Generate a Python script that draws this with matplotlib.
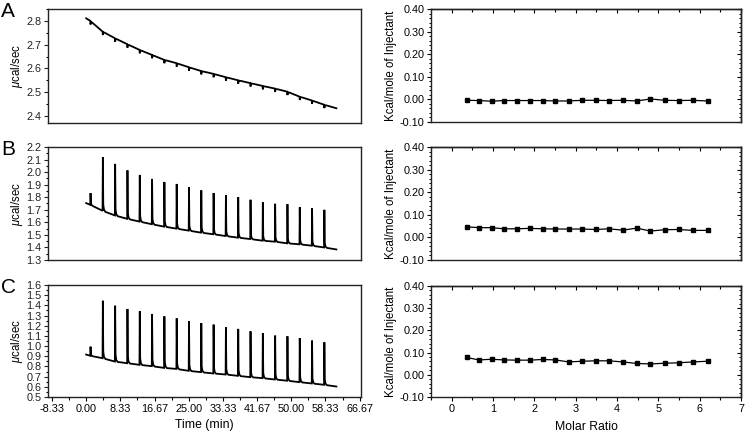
import numpy as np
import matplotlib
matplotlib.use("Agg")
import matplotlib.pyplot as plt
from matplotlib.ticker import MultipleLocator, FixedLocator, FormatStrFormatter, NullLocator, NullFormatter

plt.rcParams['font.family'] = ['Liberation Sans', 'DejaVu Sans']
plt.rcParams['mathtext.fontset'] = 'custom'
plt.rcParams['mathtext.it'] = 'Liberation Sans:italic'
plt.rcParams['mathtext.rm'] = 'Liberation Sans'

# ---------------- data ----------------
# injection times (min)
inj_times = [1.0] + [4.0 + 3.0 * k for k in range(19)]
trace_start = 0.0
trace_end = 61.0

# Panel A raw trace: baseline just before each injection (ucal/s)
A_start = 2.811
A_base = [2.800, 2.755, 2.727, 2.702, 2.678, 2.657, 2.636, 2.622, 2.605, 2.589,
          2.577, 2.563, 2.550, 2.538, 2.526, 2.515, 2.502, 2.481, 2.465, 2.447]
A_end = 2.432
A_peak = [b - 0.014 for b in A_base]

# Panel B raw trace
B_start = 1.753
B_base = [1.740, 1.692, 1.655, 1.628, 1.606, 1.585, 1.566, 1.550, 1.534, 1.518,
          1.505, 1.491, 1.478, 1.467, 1.454, 1.446, 1.433, 1.425, 1.414, 1.400]
B_peak = [1.834, 2.120, 2.066, 2.015, 1.978, 1.946, 1.922, 1.906, 1.879, 1.855,
          1.834, 1.815, 1.802, 1.780, 1.759, 1.748, 1.745, 1.721, 1.713, 1.700]
B_end = 1.384

# Panel C raw trace
C_start = 0.917
C_base = [0.905, 0.881, 0.848, 0.832, 0.816, 0.803, 0.786, 0.776, 0.757, 0.744,
          0.731, 0.721, 0.708, 0.695, 0.685, 0.672, 0.660, 0.646, 0.633, 0.620]
C_peak = [0.995, 1.446, 1.397, 1.365, 1.342, 1.316, 1.293, 1.273, 1.247, 1.227,
          1.211, 1.185, 1.169, 1.146, 1.129, 1.103, 1.097, 1.080, 1.054, 1.038]
C_end = 0.603

# spike shape (min after injection, fraction of height)
spike_dt = [0.0, 0.07, 0.17, 0.35, 0.7]
spike_frac = [0.0, 1.0, 0.12, 0.03, 0.0]

# integrated heats
molar_ratio = [0.36, 0.66, 0.965, 1.27, 1.57, 1.89, 2.20, 2.51, 2.83, 3.15,
               3.48, 3.80, 4.14, 4.48, 4.81, 5.15, 5.49, 5.83, 6.19]
heat_A = [-0.004, -0.005, -0.008, -0.005, -0.005, -0.005, -0.005, -0.007, -0.007, -0.004,
          -0.004, -0.005, -0.004, -0.007, 0.002, -0.004, -0.005, -0.004, -0.007]
heat_B = [0.047, 0.043, 0.043, 0.038, 0.038, 0.040, 0.038, 0.037, 0.037, 0.037,
          0.035, 0.038, 0.032, 0.041, 0.028, 0.034, 0.035, 0.031, 0.031]
heat_C = [0.078, 0.067, 0.070, 0.067, 0.066, 0.066, 0.069, 0.067, 0.058, 0.061,
          0.063, 0.063, 0.058, 0.051, 0.049, 0.052, 0.054, 0.058, 0.061]

time_ticks = [-8.33, 0.00, 8.33, 16.67, 25.00, 33.33, 41.67, 50.00, 58.33, 66.67]
time_tick_labels = ["-8.33", "0.00", "8.33", "16.67", "25.00", "33.33", "41.67", "50.00", "58.33", "66.67"]
panel_letters = ["A", "B", "C"]


def build_trace(start, base, peak, end):
    kt = [trace_start] + list(inj_times) + [trace_end]
    kv = [start] + list(base) + [end]
    ts, vs = [trace_start], [start]
    for i, t0 in enumerate(inj_times):
        h = peak[i] - base[i]
        for dt, fr in zip(spike_dt, spike_frac):
            t = t0 + dt
            ts.append(t)
            vs.append(np.interp(t, kt, kv) + fr * h)
    ts.append(trace_end)
    vs.append(end)
    return ts, vs


fig = plt.figure(figsize=(7.45, 4.33), dpi=100)
W, H = 745.0, 433.0


def ax_at(x0, y0, x1, y1):
    return fig.add_axes([x0 / W, 1 - y1 / H, (x1 - x0) / W, (y1 - y0) / H])


left_rows = [(9, 123), (147, 260), (285, 397)]
right_rows = [(9, 122), (147, 260), (286, 397)]

raw = [(A_start, A_base, A_peak, A_end), (B_start, B_base, B_peak, B_end),
       (C_start, C_base, C_peak, C_end)]
ylims = [(2.37, 2.85), (1.3, 2.2), (0.5, 1.6)]
heats = [heat_A, heat_B, heat_C]

spine_col = '#222222'
tick_fs = 7.8
for r in range(3):
    # left raw trace
    ax = ax_at(48, left_rows[r][0], 361, left_rows[r][1])
    ts, vs = build_trace(*raw[r])
    ax.plot(ts, vs, color='black', lw=1.3, solid_joinstyle='miter')
    ax.set_xlim(-9.3, 67.0)
    ax.set_ylim(*ylims[r])
    ax.yaxis.set_major_locator(MultipleLocator(0.1))
    ax.yaxis.set_minor_locator(MultipleLocator(0.05))
    ax.yaxis.set_major_formatter(FormatStrFormatter('%.1f'))
    ax.tick_params(axis='y', which='major', direction='out', length=3, width=0.8,
                   labelsize=tick_fs, pad=1.5, colors=spine_col, labelcolor='#222222')
    ax.tick_params(axis='y', which='minor', direction='out', length=1.8, width=0.8)
    if r == 2:
        ax.xaxis.set_major_locator(FixedLocator(time_ticks))
        ax.set_xticklabels(time_tick_labels)
        ax.xaxis.set_minor_locator(FixedLocator([(a + b) / 2 for a, b in zip(time_ticks[:-1], time_ticks[1:])]))
        ax.tick_params(axis='x', which='major', direction='out', length=3, width=0.8,
                       labelsize=tick_fs, pad=2)
        ax.tick_params(axis='x', which='minor', direction='out', length=2, width=0.8)
        ax.set_xlabel("Time (min)", fontsize=8.8, labelpad=3.5)
    else:
        ax.xaxis.set_major_locator(NullLocator())
        ax.xaxis.set_minor_locator(NullLocator())
    ax.set_ylabel(r"$\mu$cal/sec", fontsize=8.3, labelpad=1)
    for s in ax.spines.values():
        s.set_linewidth(1.0)
        s.set_color(spine_col)
    fig.text(1 / W, 1 - (left_rows[r][0] - 7) / H, panel_letters[r], fontsize=15,
             va='top', ha='left')

    # right integrated heats
    axr = ax_at(431, right_rows[r][0], 741, right_rows[r][1])
    axr.plot(molar_ratio, heats[r], color='black', lw=0.9, marker='s', ms=3.4,
             mfc='black', mec='black')
    axr.set_xlim(-0.5, 7.0)
    axr.set_ylim(-0.1, 0.4)
    axr.yaxis.set_major_locator(MultipleLocator(0.1))
    axr.yaxis.set_minor_locator(MultipleLocator(0.02))
    axr.yaxis.set_major_formatter(FormatStrFormatter('%.2f'))
    axr.tick_params(axis='y', which='major', direction='out', length=3, width=0.8,
                    labelsize=tick_fs, pad=1.5)
    axr.tick_params(axis='y', which='minor', direction='out', length=1.5, width=0.7)
    # right spine ticks (inward)
    sy = axr.secondary_yaxis('right')
    sy.yaxis.set_major_locator(MultipleLocator(0.1))
    sy.yaxis.set_minor_locator(MultipleLocator(0.02))
    sy.yaxis.set_major_formatter(NullFormatter())
    sy.tick_params(axis='y', which='major', direction='in', length=3, width=0.8)
    sy.tick_params(axis='y', which='minor', direction='in', length=1.5, width=0.7)
    sy.spines['right'].set_linewidth(1.0)
    sy.spines['right'].set_color(spine_col)
    # top spine ticks (inward)
    sx = axr.secondary_xaxis('top')
    sx.xaxis.set_major_locator(MultipleLocator(1))
    sx.xaxis.set_minor_locator(MultipleLocator(0.5))
    sx.xaxis.set_major_formatter(NullFormatter())
    sx.tick_params(axis='x', which='major', direction='in', length=3, width=0.8)
    sx.tick_params(axis='x', which='minor', direction='in', length=2, width=0.8)
    sx.spines['top'].set_linewidth(1.0)
    sx.spines['top'].set_color(spine_col)
    if r == 2:
        axr.xaxis.set_major_locator(MultipleLocator(1))
        axr.xaxis.set_minor_locator(MultipleLocator(0.5))
        axr.tick_params(axis='x', which='major', direction='out', length=3, width=0.8,
                        labelsize=tick_fs, pad=2)
        axr.tick_params(axis='x', which='minor', direction='out', length=2, width=0.8)
        axr.set_xlabel("Molar Ratio", fontsize=8.8, labelpad=5)
    else:
        axr.xaxis.set_major_locator(NullLocator())
        axr.xaxis.set_minor_locator(NullLocator())
    axr.set_ylabel("Kcal/mole of Injectant", fontsize=8.3, labelpad=2)
    for s in axr.spines.values():
        s.set_linewidth(1.0)
        s.set_color(spine_col)

fig.savefig("out.png", dpi=100)
